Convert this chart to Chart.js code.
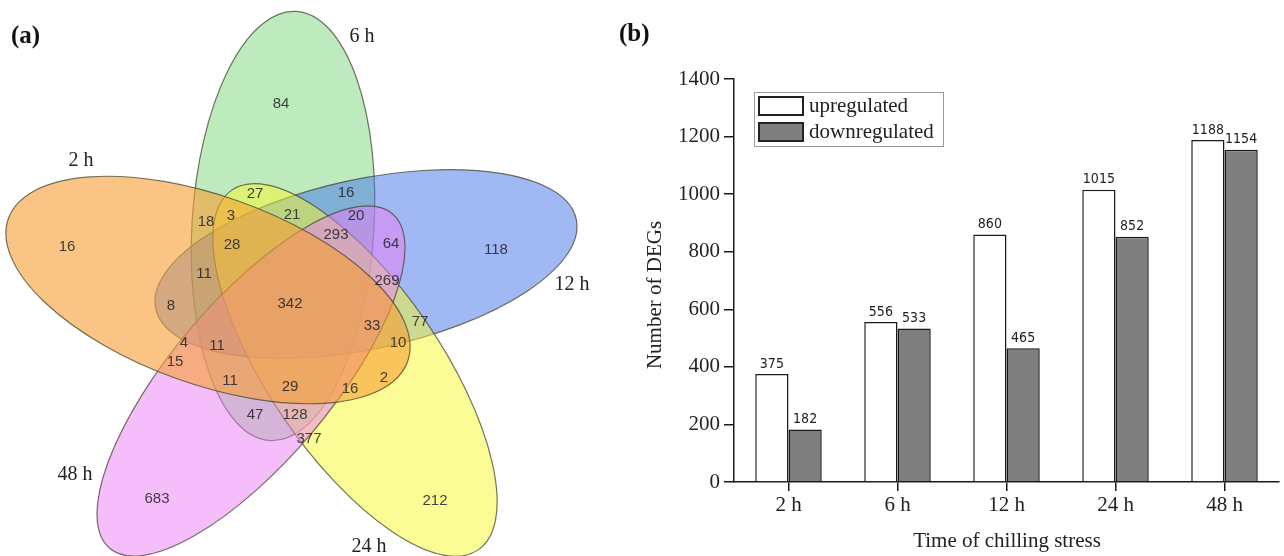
<!DOCTYPE html>
<html>
<head>
<meta charset="utf-8">
<script src="https://cdn.jsdelivr.net/npm/chart.js@4.4.1/dist/chart.umd.min.js"></script>
<style>
  html, body { margin: 0; padding: 0; background: #fff; }
  #page { position: relative; width: 1284px; height: 556px; overflow: hidden; }
  #venn { position: absolute; left: 0; top: 0; }
  #bars { position: absolute; left: 620px; top: 0; }
  .panel { position: absolute; font: bold 25px 'Liberation Serif', serif; color: #111; }
</style>
</head>
<body>
<div id="page">
  <canvas id="venn" width="620" height="556"></canvas>
  <canvas id="bars" width="664" height="556"></canvas>
  <div class="panel" style="left:11px; top:21px;">(a)</div>
  <div class="panel" style="left:619px; top:19px;">(b)</div>
</div>
<script>
// ===== Venn data (a) =====
const setNames = ["6 h", "2 h", "12 h", "24 h", "48 h"];
const regionCounts = [84, 27, 16, 18, 3, 21, 20, 16, 28, 293, 64, 118, 11, 269, 8, 342,
  33, 77, 10, 4, 11, 15, 11, 29, 16, 2, 47, 128, 377, 683, 212];

// ===== Bar data (b) =====
const timePoints = ["2 h", "6 h", "12 h", "24 h", "48 h"];
const upregulated = [375, 556, 860, 1015, 1188];
const downregulated = [182, 533, 465, 852, 1154];
const yMax = 1400;
const yStep = 200;

// ===== Venn layout (picture units, 1 unit = 1 px) =====
const regionX = [281, 255, 346, 206, 231, 292, 356, 67, 232, 336, 391, 496, 204, 387, 171, 290,
  372, 420, 398, 184, 217, 175, 230, 290, 350, 384, 255, 295, 309, 157, 435];
const regionY = [104, 194, 193, 222, 216, 215, 216, 247, 245, 235, 244, 250, 274, 281, 306, 304,
  326, 322, 343, 343, 346, 362, 381, 387, 389, 378, 415, 415, 439, 499, 501];
const setLabelX = [362, 81, 572, 369, 75];
const setLabelY = [37, 161, 285, 547, 475];

// drawn bottom to top
const ellipses = [
  { cx: 283, cy: 226, a: 215, b: 91, rot: 93.5, color: "rgba(125,215,125,0.5)" },  // 6 h
  { cx: 366, cy: 264, a: 215, b: 85, rot: -12, color: "rgba(65,115,235,0.5)" },    // 12 h
  { cx: 355, cy: 370, a: 218, b: 86, rot: 55.6, color: "rgba(249,249,45,0.5)" },   // 24 h
  { cx: 251, cy: 381, a: 219, b: 80, rot: -49.8, color: "rgba(235,125,245,0.5)" }, // 48 h
  { cx: 208, cy: 290, a: 212, b: 94, rot: 19.7, color: "rgba(247,158,50,0.6)" }    // 2 h
];

// ===== Venn plugin: ellipses + texts =====
const vennPlugin = {
  id: "vennDraw",
  beforeDatasetsDraw(chart) {
    const { ctx, scales: { x, y } } = chart;
    ellipses.forEach(e => {
      const px = x.getPixelForValue(e.cx);
      const py = y.getPixelForValue(e.cy);
      const ra = Math.abs(x.getPixelForValue(e.cx + e.a) - px);
      const rb = Math.abs(y.getPixelForValue(e.cy + e.b) - py);
      ctx.save();
      ctx.beginPath();
      ctx.ellipse(px, py, ra, rb, e.rot * Math.PI / 180, 0, Math.PI * 2);
      ctx.fillStyle = e.color;
      ctx.fill();
      ctx.lineWidth = 1.2;
      ctx.strokeStyle = "rgba(70,70,50,0.75)";
      ctx.stroke();
      ctx.restore();
    });
  },
  afterDatasetsDraw(chart) {
    const { ctx } = chart;
    chart.data.datasets.forEach((ds, di) => {
      const meta = chart.getDatasetMeta(di);
      ctx.save();
      ctx.font = ds.textFont;
      ctx.fillStyle = ds.textColor;
      ctx.textAlign = "center";
      ctx.textBaseline = "middle";
      meta.data.forEach((pt, i) => ctx.fillText(ds.texts[i], pt.x, pt.y));
      ctx.restore();
    });
  }
};

new Chart(document.getElementById("venn"), {
  type: "scatter",
  data: {
    datasets: [
      {
        data: regionCounts.map((c, i) => ({ x: regionX[i], y: regionY[i] })),
        texts: regionCounts.map(String),
        textFont: "15px 'Liberation Sans', Arial, sans-serif",
        textColor: "rgba(35,35,40,0.85)",
        pointRadius: 0
      },
      {
        data: setNames.map((n, i) => ({ x: setLabelX[i], y: setLabelY[i] })),
        texts: setNames,
        textFont: "20px 'Liberation Serif', serif",
        textColor: "#222",
        pointRadius: 0
      }
    ]
  },
  options: {
    responsive: false,
    animation: false,
    layout: { padding: 0 },
    plugins: { legend: { display: false }, tooltip: { enabled: false } },
    scales: {
      x: { type: "linear", min: 0, max: 620, display: false },
      y: { type: "linear", min: 0, max: 556, reverse: true, display: false }
    }
  },
  plugins: [vennPlugin]
});

// ===== Bar chart plugin: value labels, legend, axis titles =====
const serif = "'Liberation Serif', 'Times New Roman', serif";
const barExtras = {
  id: "barExtras",
  afterDatasetsDraw(chart) {
    const { ctx } = chart;
    ctx.save();
    ctx.font = "14px 'Liberation Sans Narrow', 'DejaVu Sans Condensed', sans-serif";
    ctx.fillStyle = "#222";
    ctx.textAlign = "center";
    ctx.textBaseline = "bottom";
    chart.data.datasets.forEach((ds, di) => {
      chart.getDatasetMeta(di).data.forEach((bar, i) => {
        ctx.fillText(String(ds.data[i]), bar.x, bar.y - 3);
      });
    });
    ctx.restore();
  },
  afterDraw(chart) {
    const { ctx } = chart;
    ctx.save();
    // legend box
    ctx.strokeStyle = "#9a9a9a";
    ctx.lineWidth = 1;
    ctx.strokeRect(134.5, 92.5, 189, 54);
    ctx.font = "21px " + serif;
    ctx.textBaseline = "middle";
    ctx.textAlign = "left";
    chart.data.datasets.forEach((ds, i) => {
      const top = 97 + i * 26;
      ctx.fillStyle = ds.backgroundColor;
      ctx.fillRect(139, top, 44, 18);
      ctx.lineWidth = 2;
      ctx.strokeStyle = "#222";
      ctx.strokeRect(139, top, 44, 18);
      ctx.fillStyle = "#222";
      ctx.fillText(ds.label, 189, top + 9);
    });
    // axis titles
    ctx.textAlign = "center";
    ctx.fillText("Time of chilling stress", 387, 541);
    ctx.translate(35, 295);
    ctx.rotate(-Math.PI / 2);
    ctx.fillText("Number of DEGs", 0, 0);
    ctx.restore();
  }
};

new Chart(document.getElementById("bars"), {
  type: "bar",
  data: {
    labels: timePoints,
    datasets: [
      { label: "upregulated", data: upregulated, backgroundColor: "#ffffff",
        borderColor: "#1a1a1a", borderWidth: 1.5, borderSkipped: "bottom" },
      { label: "downregulated", data: downregulated, backgroundColor: "#7f7f7f",
        borderColor: "#1a1a1a", borderWidth: 1.5, borderSkipped: "bottom" }
    ]
  },
  options: {
    responsive: false,
    animation: false,
    layout: { padding: { top: 79, right: 5, left: 0, bottom: 0 } },
    datasets: { bar: { categoryPercentage: 0.61, barPercentage: 1.0 } },
    plugins: { legend: { display: false }, tooltip: { enabled: false } },
    scales: {
      x: {
        grid: { offset: false, drawOnChartArea: false, tickLength: 9, color: "#1a1a1a", lineWidth: 1.5 },
        border: { color: "#1a1a1a", width: 1.5 },
        ticks: { font: { family: serif, size: 21 }, color: "#222", padding: 2 },
        afterFit: s => { s.height = 74; }
      },
      y: {
        min: 0,
        max: yMax,
        grid: { drawOnChartArea: false, tickLength: 10, color: "#1a1a1a", lineWidth: 1.5 },
        border: { color: "#1a1a1a", width: 1.5 },
        ticks: { stepSize: yStep, font: { family: serif, size: 21 }, color: "#222", padding: 4,
          callback: v => String(v) },
        afterFit: s => { s.width = 114; }
      }
    }
  },
  plugins: [barExtras]
});
</script>
</body>
</html>
